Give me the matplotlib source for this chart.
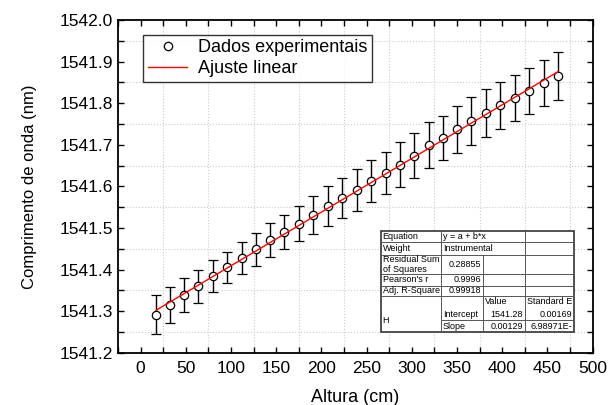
import numpy as np
import matplotlib
matplotlib.use("Agg")
import matplotlib.pyplot as plt
from matplotlib.lines import Line2D
from matplotlib.patches import Rectangle

plt.rcParams['font.family'] = ['Liberation Sans', 'DejaVu Sans']

# altura (cm)
altura = [17, 32, 48, 64, 80, 96, 112, 128, 143, 159, 175, 191, 207, 223, 239,
          255, 271, 287, 303, 319, 335, 350, 366, 382, 398, 414, 430, 446, 462]
# comprimento de onda (nm)
lam = [1541.291, 1541.315, 1541.339, 1541.360, 1541.384, 1541.405, 1541.428,
       1541.449, 1541.471, 1541.490, 1541.510, 1541.531, 1541.552, 1541.572,
       1541.591, 1541.613, 1541.632, 1541.652, 1541.674, 1541.699, 1541.717,
       1541.737, 1541.758, 1541.777, 1541.795, 1541.812, 1541.830, 1541.849,
       1541.865]
erro = [0.047, 0.043, 0.041, 0.040, 0.039, 0.037, 0.038, 0.040, 0.040, 0.041,
        0.042, 0.046, 0.048, 0.048, 0.050, 0.050, 0.051, 0.054, 0.055, 0.056,
        0.053, 0.057, 0.058, 0.058, 0.057, 0.055, 0.055, 0.055, 0.057]

intercept = 1541.28
slope = 0.00129

fig = plt.figure(figsize=(6.08, 4.05), dpi=100)
ax = fig.add_axes([118/608, 1 - 352.7/405, 474.5/608, 332.7/405])

ax.errorbar(altura, lam, yerr=erro, fmt='o', mfc='white', mec='black', ms=6,
            mew=0.9, ecolor='black', elinewidth=1.0, capsize=3.5, capthick=1.0,
            zorder=3)
xf = np.array([min(altura), max(altura)])
ax.plot(xf, intercept + slope * xf, color='red', lw=1.0, zorder=4)

ax.set_xlim(-25, 500)
ax.set_ylim(1541.2, 1542.0)
ax.set_xticks(np.arange(0, 501, 50))
ax.set_xticks(np.arange(-25, 500, 50), minor=True)
ax.set_yticks(np.arange(1541.2, 1542.01, 0.1))
ax.set_yticks(np.arange(1541.25, 1542.0, 0.1), minor=True)
ax.set_yticklabels(['%.1f' % v for v in np.arange(1541.2, 1542.01, 0.1)])
ax.tick_params(which='both', direction='in', top=True, right=True,
               labelsize=12.5, width=1.0, length=4.5)
ax.tick_params(axis='x', pad=6)
ax.grid(which='minor', ls=':', color='#cccccc', lw=0.8)
for s in ax.spines.values():
    s.set_linewidth(1.3)

ax.set_xlabel('Altura (cm)', fontsize=13, labelpad=9)
ax.set_ylabel('Comprimento de onda (nm)', fontsize=12, labelpad=16)

handles = [Line2D([], [], ls='none', marker='o', mfc='white', mec='black',
                  ms=6, mew=0.9),
           Line2D([], [], color='red', lw=1.0)]
leg = ax.legend(handles, ['Dados experimentais', 'Ajuste linear'],
                loc='upper left', bbox_to_anchor=(0.053, 0.955),
                borderaxespad=0, fontsize=13, frameon=True, fancybox=False,
                handlelength=2.2, handletextpad=0.6, borderpad=0.25,
                labelspacing=0.2)
leg.get_frame().set_edgecolor('black')
leg.get_frame().set_linewidth(1.0)


# fit results table, drawn in figure pixel coords
def fx(px):
    return px / 608


def fy(py):
    return 1 - py / 405


tf = fig.transFigure
cols = [380.7, 440.7, 483.3, 525, 574]
rows = [231, 242.3, 255, 274, 285.7, 295.7, 308.3, 320, 332.3]
ax.add_patch(Rectangle((fx(cols[0]), fy(rows[-1])),
                       fx(cols[-1]) - fx(cols[0]), fy(rows[0]) - fy(rows[-1]),
                       transform=tf, facecolor='white', edgecolor='#333333',
                       lw=1.2, zorder=6, clip_on=False))
lc = '#555555'
for c in [cols[1], cols[3]]:
    ax.add_line(Line2D([fx(c), fx(c)], [fy(rows[0]), fy(rows[-1])],
                       transform=tf, color=lc, lw=0.7, zorder=7))
ax.add_line(Line2D([fx(cols[2]), fx(cols[2])], [fy(rows[2]), fy(rows[-1])],
                   transform=tf, color=lc, lw=0.7, zorder=7))
for r in rows[1:6]:
    ax.add_line(Line2D([fx(cols[0]), fx(cols[-1])], [fy(r), fy(r)],
                       transform=tf, color=lc, lw=0.7, zorder=7))
ax.add_line(Line2D([fx(cols[1]), fx(cols[-1])], [fy(rows[7]), fy(rows[7])],
                   transform=tf, color=lc, lw=0.7, zorder=7))


def cell(r0, r1, c, txt, ha='left'):
    y = fy((rows[r0] + rows[r1]) / 2)
    if ha == 'left':
        x = fx(cols[c] + 2)
    else:
        x = fx(cols[c + 1] - 2)
    fig.text(x, y, txt, fontsize=6.5, ha=ha, va='center', zorder=8,
             linespacing=1.0)


cell(0, 1, 0, 'Equation')
cell(0, 1, 1, 'y = a + b*x')
cell(1, 2, 0, 'Weight')
cell(1, 2, 1, 'Instrumental')
cell(2, 3, 0, 'Residual Sum\nof Squares')
cell(2, 3, 1, '0.28855', 'right')
cell(3, 4, 0, "Pearson's r")
cell(3, 4, 1, '0.9996', 'right')
cell(4, 5, 0, 'Adj. R-Square')
cell(4, 5, 1, '0.99918', 'right')
cell(5, 6, 2, 'Value')
cell(5, 6, 3, 'Standard E')
cell(6, 8, 0, 'H')
cell(6, 7, 1, 'Intercept')
cell(6, 7, 2, '1541.28', 'right')
cell(6, 7, 3, '0.00169', 'right')
cell(7, 8, 1, 'Slope')
cell(7, 8, 2, '0.00129', 'right')
cell(7, 8, 3, '6.98971E-', 'right')

fig.savefig('out.png', dpi=100)
